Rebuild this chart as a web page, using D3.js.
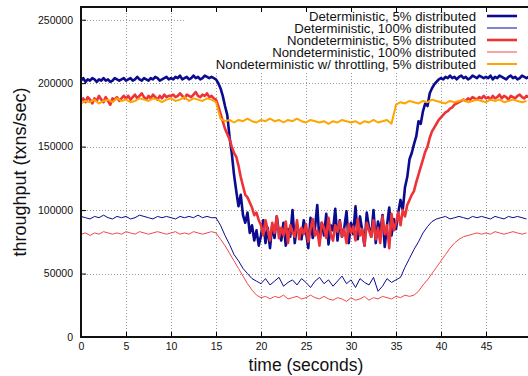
<!DOCTYPE html>
<html>
<head>
<meta charset="utf-8">
<script src="https://cdn.jsdelivr.net/npm/d3@7"></script>
<style>
body{margin:0;background:#fff;}
svg{display:block;font-family:"Liberation Sans",Arial,sans-serif;}
</style>
</head>
<body>
<svg id="chart" width="528" height="376"></svg>
<script>
// values in thousands of txns/sec
const labels = [
    'Deterministic, 5% distributed',
    'Deterministic, 100% distributed',
    'Nondeterministic, 5% distributed',
    'Nondeterministic, 100% distributed',
    'Nondeterministic w/ throttling, 5% distributed'
];

// sampled every 0.25 s
const det5 = [
    202,204,201,203,202,204,203,201,203,202,204,202,203,201,202,204,203,202,203,204,
    202,203,204,202,203,205,203,202,204,203,202,204,203,205,204,202,203,204,205,203,
    204,203,205,204,206,203,204,205,203,204,206,204,205,203,204,206,205,204,205,204,
    203,200,196,190,182,175,158,145,128,115,103,112,96,90,98,82,88,76,84,72,
    80,92,74,86,70,88,78,95,82,76,90,72,85,79,100,74,88,82,77,92,
    83,70,94,78,86,104,75,90,80,97,73,88,84,101,76,92,79,86,99,74,
    90,81,103,77,95,84,72,98,86,79,100,74,91,83,96,71,88,102,80,93,
    85,98,108,100,118,126,140,145,152,158,170,168,178,184,182,192,196,199,201,203,
    204,203,205,204,206,204,205,203,205,206,204,205,203,204,206,205,204,206,205,204,
    205,204,206,203,205,204,206,205,204,203,205,206,204,205,203,204,206,205,204,205
];

const nondet5 = [
    186,188,185,189,187,184,188,186,190,187,185,189,186,183,188,187,189,186,188,190,
    188,190,187,189,191,188,190,192,189,187,190,188,191,189,187,190,188,191,189,190,
    190,191,189,190,192,190,188,191,190,189,191,193,190,189,191,190,192,189,190,188,
    187,182,176,170,164,160,156,150,145,142,135,126,119,112,110,106,102,96,98,92,
    88,80,92,84,76,90,82,95,78,86,80,91,74,88,83,79,92,77,86,81,
    89,75,85,93,80,84,72,90,86,78,94,81,76,88,83,91,79,85,74,89,
    82,87,76,93,80,85,72,90,84,79,92,77,86,74,95,81,88,70,97,84,
    90,98,88,100,95,104,108,112,115,122,128,134,140,146,150,157,162,165,168,171,
    173,175,177,178,180,181,183,184,185,186,187,186,188,187,189,188,187,189,188,190,
    188,189,187,190,188,189,191,188,190,189,187,190,189,188,190,191,189,188,190,189
];

// sampled every 0.5 s
const det100 = [
    95,94,93,95,94,96,94,93,95,94,95,93,94,96,95,94,93,95,94,95,94,93,95,94,95,94,96,94,95,94,
    94,88,80,73,65,60,54,50,46,44,
    42,46,41,44,47,40,43,45,41,46,43,39,44,47,42,45,40,44,48,42,45,39,46,43,41,47,36,40,46,43,
    45,47,55,62,69,75,82,87,91,93,
    94,95,93,94,95,94,93,95,94,95,94,93,95,94,93,95,94,95,94,93
];

const nondet100 = [
    81,82,80,82,81,83,82,81,82,81,83,82,81,83,82,81,82,83,82,81,82,83,81,82,81,83,82,81,82,83,
    82,77,72,66,60,54,48,42,37,33,
    31,32,30,32,31,33,30,31,32,30,31,33,31,30,32,30,29,31,30,28,31,29,30,32,29,31,30,32,31,30,32,31,33,32,
    33,36,41,45,50,55,
    60,65,70,74,77,79,80,81,82,81,82,81,83,82,81,82,83,82,81,82
];

const throttled = [
    184,186,185,187,184,186,187,185,188,186,187,185,186,188,187,186,188,187,185,187,188,186,187,189,186,188,187,186,188,187,
    185,172,170,171,169,171,170,172,170,169,171,170,172,170,171,169,171,170,172,170,169,171,170,169,170,168,170,169,171,170,
    169,170,168,170,169,171,169,170,171,168,183,185,184,186,185,184,186,185,187,186,
    185,184,186,185,186,187,185,186,187,186,185,187,186,187,185,186,187,186,185,186
];

const xTicks = [0, 5, 10, 15, 20, 25, 30, 35, 40, 45];
const yTicks = [0, 50000, 100000, 150000, 200000, 250000];

const toPoints = (values, step) => values.map((v, i) => ({t: i * step, v: v * 1000}));

const series = [
    {name: labels[0], points: toPoints(det5, 0.25), color: '#0b0b8f', width: 2.6},
    {name: labels[1], points: toPoints(det100, 0.5), color: '#0b0b8f', width: 1},
    {name: labels[2], points: toPoints(nondet5, 0.25), color: '#ee3338', width: 2.6},
    {name: labels[3], points: toPoints(nondet100, 0.5), color: '#f2484c', width: 1},
    {name: labels[4], points: toPoints(throttled, 0.5), color: '#ffa500', width: 2}
];

const margin = {left: 81, top: 7, right: 531, bottom: 337};

const x = d3.scaleLinear().domain([0, 50]).range([margin.left, margin.right]);
const y = d3.scaleLinear().domain([0, 260000]).range([margin.bottom, margin.top]);

const svg = d3.select('#chart');

svg.append('defs').append('clipPath').attr('id', 'plot-clip')
    .append('rect')
    .attr('x', margin.left).attr('y', margin.top)
    .attr('width', margin.right - margin.left).attr('height', margin.bottom - margin.top);

const grid = svg.append('g').attr('class', 'grid')
    .attr('stroke', '#999').attr('stroke-width', 1).attr('stroke-dasharray', '1,2');

grid.selectAll('line.gx')
    .data(xTicks.filter(d => d > 0))
    .enter().append('line')
    .attr('class', 'gx')
    .attr('x1', d => Math.round(x(d)) + 0.5).attr('x2', d => Math.round(x(d)) + 0.5)
    .attr('y1', margin.top).attr('y2', margin.bottom);

grid.selectAll('line.gy')
    .data(yTicks.filter(d => d > 0))
    .enter().append('line')
    .attr('class', 'gy')
    .attr('y1', d => Math.round(y(d)) + 0.5).attr('y2', d => Math.round(y(d)) + 0.5)
    .attr('x1', margin.left).attr('x2', margin.right);

// legend box hides the grid behind it
svg.append('rect')
    .attr('x', 185).attr('y', margin.top + 1)
    .attr('width', 343).attr('height', 64)
    .attr('fill', '#fff');

const line = d3.line()
    .x(d => x(d.t))
    .y(d => y(d.v));

svg.append('g')
    .attr('clip-path', 'url(#plot-clip)')
    .selectAll('path')
    .data(series)
    .enter().append('path')
    .attr('d', d => line(d.points))
    .attr('fill', 'none')
    .attr('stroke', d => d.color)
    .attr('stroke-width', d => d.width)
    .attr('stroke-linejoin', 'round');

const xAxis = svg.append('g')
    .attr('transform', `translate(0,${margin.bottom})`)
    .call(d3.axisBottom(x).tickValues(xTicks).tickSize(-5).tickPadding(6));

const yAxis = svg.append('g')
    .attr('transform', `translate(${margin.left},0)`)
    .call(d3.axisLeft(y).tickValues(yTicks).tickSize(-5).tickPadding(8).tickFormat(d3.format('d')));

svg.append('g')
    .attr('transform', `translate(0,${margin.top})`)
    .call(d3.axisTop(x).tickValues(xTicks).tickSize(-5).tickFormat(''));

[xAxis, yAxis].forEach(ax => {
    ax.select('.domain').remove();
    ax.selectAll('text').attr('font-size', 10.5).attr('fill', '#111')
        .attr('font-family', '"Liberation Sans",Arial,sans-serif');
    ax.selectAll('line').attr('stroke', '#000');
});
svg.selectAll('.domain').remove();

svg.append('rect')
    .attr('x', margin.left).attr('y', margin.top)
    .attr('width', margin.right - margin.left).attr('height', margin.bottom - margin.top)
    .attr('fill', 'none').attr('stroke', '#111').attr('stroke-width', 2);

const legend = svg.append('g').attr('class', 'legend');

const rows = legend.selectAll('g')
    .data(series)
    .enter().append('g')
    .attr('transform', (d, i) => `translate(0,${16 + i * 12})`);

rows.append('text')
    .attr('x', 476).attr('y', 0).attr('dy', '0.35em')
    .attr('text-anchor', 'end')
    .attr('font-size', 13.2)
    .attr('fill', '#111')
    .text(d => d.name);

rows.append('line')
    .attr('x1', 487).attr('x2', 517)
    .attr('stroke', d => d.color)
    .attr('stroke-width', d => d.width);

svg.append('text')
    .attr('x', (margin.left + margin.right) / 2).attr('y', 371)
    .attr('text-anchor', 'middle')
    .attr('font-size', 17.5)
    .attr('fill', '#111')
    .text('time (seconds)');

svg.append('text')
    .attr('transform', `translate(26,${(margin.top + margin.bottom) / 2}) rotate(-90)`)
    .attr('text-anchor', 'middle')
    .attr('font-size', 18)
    .attr('fill', '#111')
    .text('throughput (txns/sec)');
</script>
</body>
</html>
